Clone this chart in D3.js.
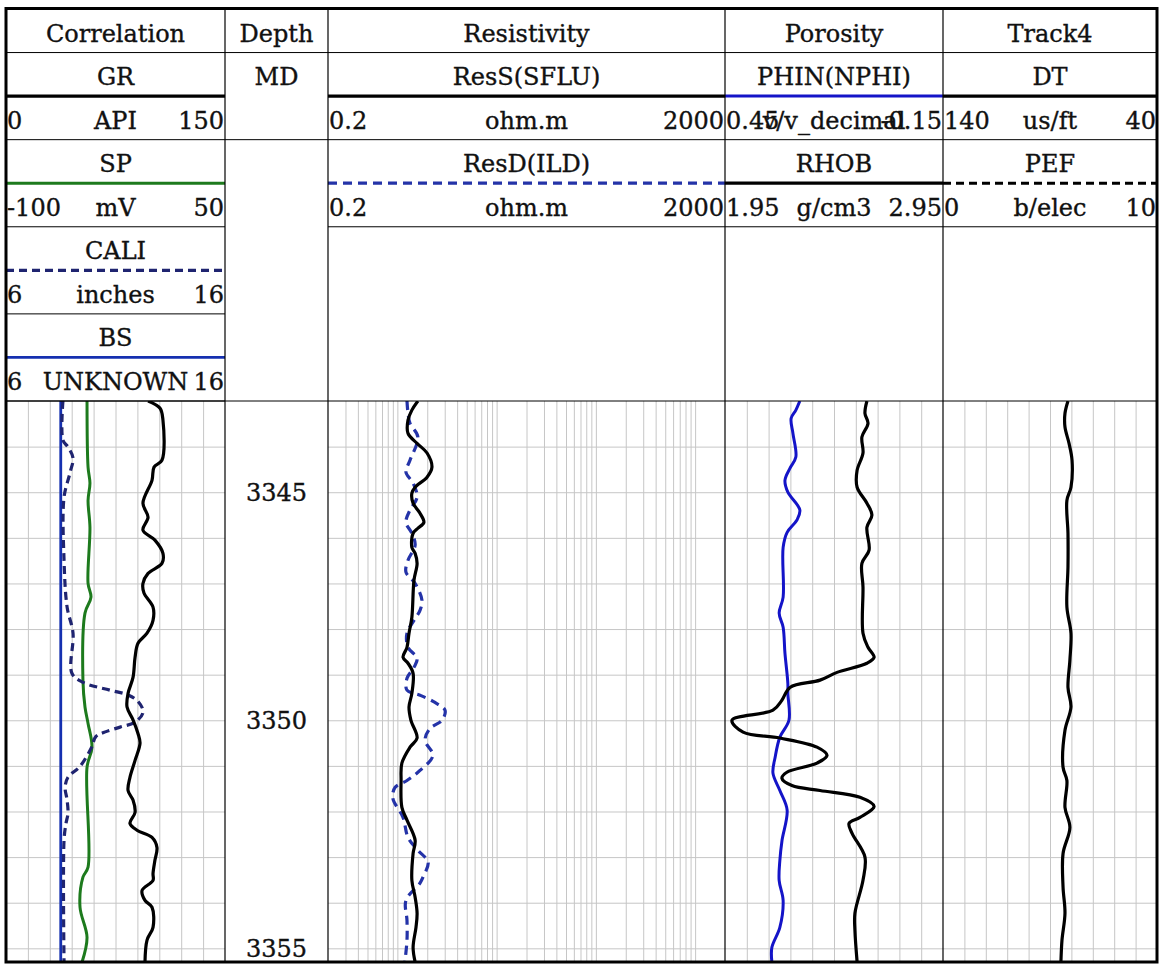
<!DOCTYPE html>
<html>
<head>
<meta charset="utf-8">
<script src="https://cdn.jsdelivr.net/npm/d3@7"></script>
<style>
  body { margin: 0; background: #fff; }
  svg text { font-family: "DejaVu Serif", serif; font-size: 24px; fill: #111; stroke: #111; stroke-width: 0.35px; }
</style>
</head>
<body>
<div id="chart"></div>
<script>
// depth window of the section and the labelled depths
const depthRange = [3343.0, 3355.3];
const depthLabels = [3345, 3350, 3355];

const trackTitles = ['Correlation', 'Depth', 'Resistivity', 'Porosity', 'Track4'];

// header curves, one list per track
const corrCurves = ['GR', 'SP', 'CALI', 'BS'];
const corrUnits = ['API', 'mV', 'inches', 'UNKNOWN'];
const corrScales = [[0, 150], [-100, 50], [6, 16], [6, 16]];

const resCurves = ['ResS(SFLU)', 'ResD(ILD)'];
const resUnits = ['ohm.m', 'ohm.m'];
const resScales = [[0.2, 2000], [0.2, 2000]];

const porCurves = ['PHIN(NPHI)', 'RHOB'];
const porUnits = ['v/v_decimal', 'g/cm3'];
const porScales = [[0.45, -0.15], [1.95, 2.95]];

const t4Curves = ['DT', 'PEF'];
const t4Units = ['us/ft', 'b/elec'];
const t4Scales = [[140, 40], [0, 10]];

// log samples: [depth, value]
const grData = [[3343.0,97.3],[3343.16,105.5],[3343.42,107.5],[3344.30,106.8],[3344.45,101.4],[3344.74,100.0],[3345.24,93.8],[3345.55,97.3],[3345.83,93.8],[3346.05,102.0],[3346.34,107.5],[3346.56,106.8],[3346.78,97.3],[3347.00,93.8],[3347.21,94.5],[3347.52,100.7],[3347.81,100.7],[3348.09,96.6],[3348.31,90.4],[3348.62,88.4],[3349.06,87.0],[3349.41,83.6],[3349.71,82.9],[3349.99,87.0],[3350.29,90.4],[3350.50,91.8],[3350.88,88.4],[3351.25,84.9],[3351.54,83.6],[3351.75,87.0],[3352.02,88.4],[3352.26,84.9],[3352.41,89.7],[3352.57,100.0],[3352.79,103.4],[3353.07,102.0],[3353.36,100.7],[3353.51,100.7],[3353.73,93.2],[3353.95,95.2],[3354.10,100.0],[3354.54,100.7],[3354.82,96.6],[3355.3,95.2]];

const spData = [[3343.0,-44.5],[3344.45,-43.8],[3344.80,-42.5],[3345.18,-43.8],[3345.77,-42.5],[3347.00,-43.8],[3347.30,-41.8],[3347.65,-45.9],[3349.12,-47.3],[3349.71,-45.9],[3350.07,-43.8],[3350.59,-41.1],[3351.03,-44.5],[3353.22,-43.8],[3353.44,-47.3],[3354.10,-49.3],[3354.76,-44.5],[3355.3,-47.9]];

const caliData = [[3343.0,8.60],[3343.86,8.60],[3344.01,8.83],[3344.25,9.06],[3344.58,8.92],[3345.11,8.65],[3346.49,8.65],[3347.52,8.79],[3348.09,9.06],[3348.97,9.01],[3349.17,9.52],[3349.34,10.75],[3349.45,11.6],[3349.60,12.05],[3349.82,12.26],[3350.04,11.90],[3350.15,11.21],[3350.26,10.5],[3350.36,10.10],[3350.60,9.90],[3351.01,9.38],[3351.25,8.83],[3351.47,8.70],[3351.75,8.79],[3352.04,8.83],[3352.26,8.74],[3352.63,8.65],[3355.3,8.65]];

const bsData = [[3343.0,8.5],[3355.3,8.5]];

const ressData = [[3343.0,1.61],[3343.20,1.40],[3343.42,1.28],[3343.71,1.28],[3343.93,1.58],[3344.14,1.99],[3344.45,2.23],[3344.67,1.99],[3344.89,1.51],[3345.02,1.40],[3345.24,1.44],[3345.46,1.69],[3345.66,1.85],[3345.79,1.61],[3345.90,1.44],[3346.21,1.40],[3346.34,1.51],[3346.56,1.58],[3346.93,1.47],[3347.74,1.40],[3348.09,1.31],[3348.40,1.25],[3348.62,1.14],[3348.75,1.28],[3348.97,1.44],[3349.41,1.40],[3349.71,1.31],[3350.00,1.37],[3350.39,1.58],[3350.59,1.34],[3350.94,1.11],[3351.32,1.09],[3351.91,1.11],[3352.19,1.25],[3352.63,1.51],[3352.92,1.44],[3353.51,1.40],[3353.88,1.51],[3354.23,1.58],[3354.54,1.54],[3354.98,1.44],[3355.3,1.51]];

const resdData = [[3343.0,1.25],[3343.27,1.28],[3343.49,1.34],[3343.79,1.61],[3344.30,1.34],[3344.56,1.22],[3344.80,1.44],[3345.11,1.58],[3345.39,1.34],[3345.66,1.22],[3345.90,1.40],[3346.16,1.51],[3346.49,1.28],[3346.75,1.22],[3347.00,1.51],[3347.37,1.77],[3347.59,1.69],[3347.81,1.47],[3348.09,1.25],[3348.40,1.28],[3348.64,1.58],[3348.84,1.47],[3349.08,1.25],[3349.34,1.25],[3349.45,1.69],[3349.61,2.39],[3349.78,3.02],[3350.00,2.82],[3350.18,2.13],[3350.44,1.90],[3350.77,2.28],[3351.10,1.69],[3351.32,1.25],[3351.47,0.95],[3351.71,0.90],[3352.13,1.14],[3352.57,1.28],[3352.85,1.61],[3353.11,2.04],[3353.44,1.81],[3353.57,1.69],[3353.95,1.22],[3354.39,1.25],[3354.82,1.25],[3355.3,1.19]];

const nphiData = [[3343.0,0.244],[3343.20,0.255],[3343.38,0.268],[3343.71,0.263],[3344.23,0.255],[3344.47,0.271],[3344.74,0.285],[3345.00,0.277],[3345.39,0.244],[3345.61,0.252],[3345.88,0.279],[3346.21,0.290],[3347.30,0.290],[3347.65,0.301],[3347.96,0.290],[3348.53,0.285],[3349.19,0.277],[3349.41,0.277],[3350.00,0.274],[3350.37,0.299],[3350.81,0.312],[3351.16,0.318],[3351.54,0.299],[3351.97,0.279],[3352.63,0.293],[3353.07,0.299],[3353.51,0.301],[3353.95,0.290],[3354.54,0.299],[3354.98,0.321],[3355.3,0.321]];

const rhobData = [[3343.0,2.601],[3343.27,2.592],[3343.49,2.606],[3343.79,2.578],[3344.14,2.583],[3344.52,2.556],[3344.89,2.556],[3345.24,2.601],[3345.50,2.624],[3345.77,2.601],[3346.27,2.611],[3346.56,2.578],[3347.08,2.583],[3348.09,2.583],[3348.40,2.606],[3348.62,2.634],[3348.75,2.601],[3348.95,2.464],[3349.12,2.386],[3349.28,2.248],[3349.56,2.211],[3349.78,2.170],[3350.00,1.982],[3350.26,2.033],[3350.39,2.202],[3350.59,2.372],[3350.77,2.418],[3350.94,2.372],[3351.14,2.234],[3351.27,2.211],[3351.43,2.257],[3351.54,2.386],[3351.69,2.569],[3351.89,2.634],[3352.13,2.569],[3352.26,2.519],[3352.48,2.533],[3353.00,2.592],[3353.51,2.583],[3354.23,2.546],[3354.61,2.546],[3355.3,2.556]];

const dtData = [[3343.0,81.6],[3343.27,83.0],[3343.57,83.0],[3343.93,81.1],[3344.30,79.7],[3344.89,80.2],[3345.18,82.1],[3345.90,81.6],[3346.64,81.6],[3347.52,82.1],[3348.09,80.2],[3348.68,80.7],[3349.28,81.6],[3349.71,80.2],[3350.22,83.0],[3351.03,83.9],[3351.32,82.1],[3351.91,83.0],[3352.35,80.7],[3352.92,83.9],[3353.66,83.9],[3354.23,83.0],[3354.82,84.4],[3355.3,84.9]];

// styles per curve name
const styles = {
  'GR':         { color: '#000',    width: 3.2, dash: null },
  'SP':         { color: '#1d7a1d', width: 3,   dash: null },
  'CALI':       { color: '#1f2470', width: 3.2, dash: '8,5' },
  'BS':         { color: '#1530b0', width: 2.8, dash: null },
  'ResS(SFLU)': { color: '#000',    width: 3.2, dash: null },
  'ResD(ILD)':  { color: '#2433a8', width: 3.2, dash: '9,6' },
  'PHIN(NPHI)': { color: '#1414c8', width: 3,   dash: null },
  'RHOB':       { color: '#000',    width: 3.2, dash: null },
  'DT':         { color: '#000',    width: 3.2, dash: null },
  'PEF':        { color: '#000',    width: 3,   dash: '8,5' }
};

const width = 1160, height = 972;
const colEdges = [6, 225, 328, 725, 943, 1157];
const headTop = 9, headBottom = 401, plotBottom = 962;
const rowH = (headBottom - headTop) / 9;

const svg = d3.select('#chart').append('svg')
    .attr('width', width)
    .attr('height', height);

const y = d3.scaleLinear().domain(depthRange).range([headBottom, plotBottom]);

function makeScale(track, range, log) {
  const s = log ? d3.scaleLog() : d3.scaleLinear();
  return s.domain(range).range([colEdges[track], colEdges[track + 1]]);
}

// ---- grid ----
const gridG = svg.append('g');
function drawGrid(track, xs, values) {
  const x0 = colEdges[track], x1 = colEdges[track + 1];
  gridG.append('g')
      .attr('transform', `translate(0, ${headBottom})`)
      .call(d3.axisTop(xs).tickValues(values).tickSize(-(plotBottom - headBottom)).tickFormat(''))
      .call(g => g.select('.domain').remove())
      .selectAll('line').attr('stroke', '#c6c6c6').attr('stroke-width', 1);
  gridG.append('g')
      .attr('transform', `translate(${x0}, 0)`)
      .call(d3.axisLeft(y).tickValues(d3.range(3344, 3356)).tickSize(-(x1 - x0)).tickFormat(''))
      .call(g => g.select('.domain').remove())
      .selectAll('line').attr('stroke', '#c6c6c6').attr('stroke-width', 1);
}

const tenths = d3.range(1, 10);
[0, 3, 4].forEach(t => drawGrid(t, makeScale(t, [0, 10]), tenths));

let logTicks = [];
[0.1, 1, 10, 100, 1000].forEach(dec => {
  tenths.forEach(m => {
    const v = +(m * dec).toPrecision(3);
    if (v > 0.2 && v < 2000) logTicks.push(v);
  });
});
drawGrid(2, makeScale(2, [0.2, 2000], true), logTicks);

// ---- curves ----
const defs = svg.append('defs');
colEdges.slice(0, -1).forEach((x0, i) => {
  defs.append('clipPath').attr('id', 'clip' + i)
    .append('rect')
      .attr('x', x0).attr('y', headBottom)
      .attr('width', colEdges[i + 1] - x0)
      .attr('height', plotBottom - headBottom);
});

function drawCurve(track, name, range, data, log) {
  const xs = makeScale(track, range, log);
  const st = styles[name];
  const line = d3.line()
      .x(d => xs(d[1]))
      .y(d => y(d[0]))
      .curve(d3.curveCatmullRom.alpha(0.5));
  svg.append('path')
      .datum(data)
      .attr('clip-path', `url(#clip${track})`)
      .attr('d', line)
      .attr('fill', 'none')
      .attr('stroke', st.color)
      .attr('stroke-width', st.width)
      .attr('stroke-dasharray', st.dash)
      .attr('stroke-linejoin', 'round');
}

drawCurve(0, 'BS', corrScales[3], bsData);
drawCurve(0, 'SP', corrScales[1], spData);
drawCurve(0, 'CALI', corrScales[2], caliData);
drawCurve(0, 'GR', corrScales[0], grData);
drawCurve(2, 'ResD(ILD)', resScales[1], resdData, true);
drawCurve(2, 'ResS(SFLU)', resScales[0], ressData, true);
drawCurve(3, 'PHIN(NPHI)', porScales[0], nphiData);
drawCurve(3, 'RHOB', porScales[1], rhobData);
drawCurve(4, 'DT', t4Scales[0], dtData);

// depth labels
svg.append('g').selectAll('text')
  .data(depthLabels)
  .enter()
    .append('text')
      .attr('x', (colEdges[1] + colEdges[2]) / 2)
      .attr('y', d => y(d))
      .attr('dy', '0.36em')
      .attr('text-anchor', 'middle')
      .text(d => d);

// ---- header ----
const head = svg.append('g');
function hline(x0, x1, yy, color, w, dash) {
  head.append('line')
      .attr('x1', x0).attr('x2', x1).attr('y1', yy).attr('y2', yy)
      .attr('stroke', color || '#000')
      .attr('stroke-width', w || 1)
      .attr('stroke-dasharray', dash || null);
}
function label(x, yy, txt, anchor) {
  head.append('text')
      .attr('x', x).attr('y', yy)
      .attr('text-anchor', anchor || 'middle')
      .text(txt);
}

const rowY = r => headTop + r * rowH;

trackTitles.forEach((t, i) => {
  label((colEdges[i] + colEdges[i + 1]) / 2, rowY(0) + 33, t);
});
hline(colEdges[0], colEdges[5], rowY(1));

function drawHeader(track, names, units, scales) {
  const x0 = colEdges[track], x1 = colEdges[track + 1];
  names.forEach((n, k) => {
    const st = styles[n];
    const nameRow = 1 + 2 * k;
    label((x0 + x1) / 2, rowY(nameRow) + 32.5, n);
    label(x0 + 1, rowY(nameRow + 1) + 32.5, String(scales[k][0]), 'start');
    label((x0 + x1) / 2, rowY(nameRow + 1) + 32.5, units[k]);
    label(x1 - 1, rowY(nameRow + 1) + 32.5, String(scales[k][1]), 'end');
    hline(x0, x1, rowY(nameRow + 1), st.color, st.width, st.dash);
    hline(x0, x1, rowY(nameRow + 2));
  });
}

drawHeader(0, corrCurves, corrUnits, corrScales);
drawHeader(2, resCurves, resUnits, resScales);
drawHeader(3, porCurves, porUnits, porScales);
drawHeader(4, t4Curves, t4Units, t4Scales);

// depth column header
label((colEdges[1] + colEdges[2]) / 2, rowY(1) + 32.5, 'MD');
hline(colEdges[1], colEdges[2], rowY(3));

// header bottom and column separators
hline(colEdges[0], colEdges[5], headBottom);
colEdges.slice(1, -1).forEach(x => {
  head.append('line')
      .attr('x1', x).attr('x2', x)
      .attr('y1', headTop).attr('y2', plotBottom)
      .attr('stroke', '#000').attr('stroke-width', 1.2);
});

// outer frame
svg.append('rect')
    .attr('x', colEdges[0]).attr('y', headTop - 0.5)
    .attr('width', colEdges[5] - colEdges[0])
    .attr('height', plotBottom - headTop + 0.5)
    .attr('fill', 'none')
    .attr('stroke', '#000')
    .attr('stroke-width', 3);
</script>
</body>
</html>
